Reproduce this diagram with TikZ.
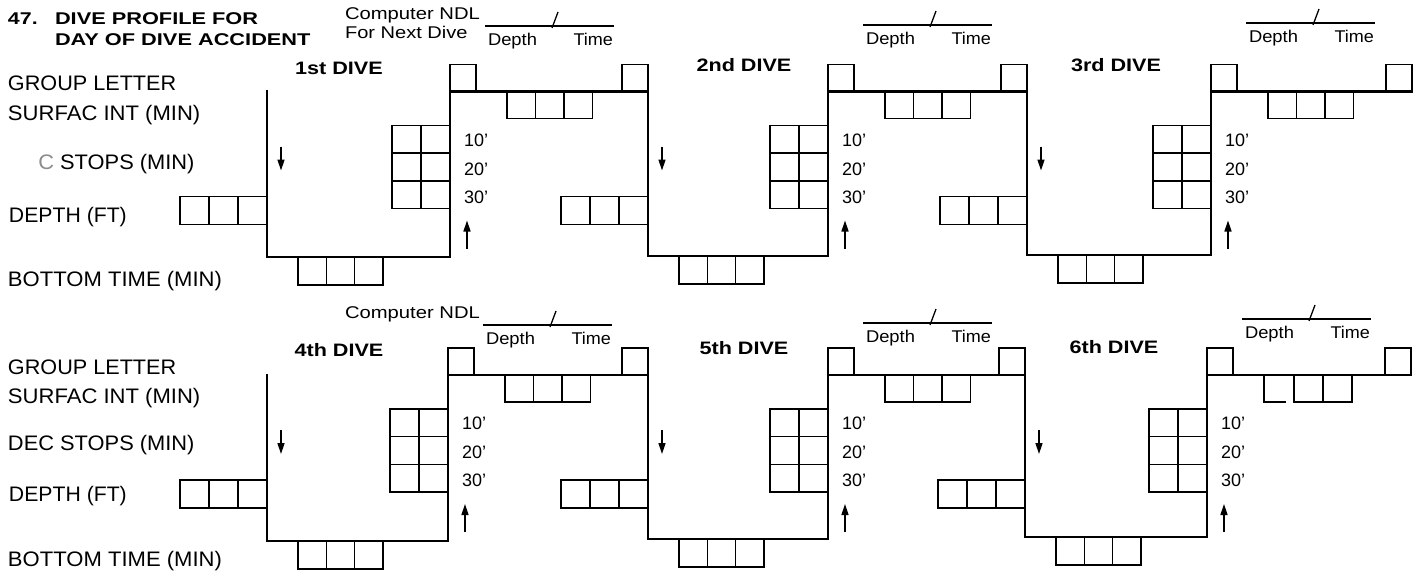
\documentclass[tikz,border=0pt]{standalone}
\usepackage{fontspec}
\setmainfont{Liberation Sans}
\usepackage{graphicx}
\usetikzlibrary{arrows.meta}

% horizontal stretch of a piece of text
\newcommand\hs[2]{\scalebox{#1}[1]{#2}}

\tikzset{
  profile/.style={line width=2.8pt, line join=miter, line cap=rect},
  cell/.style={line width=1.5pt},
  rule/.style={line width=1.5pt},
  dirarrow/.style={line width=1.5pt, -{Triangle[length=11pt,width=7pt]}},
  txt/.style={inner sep=0pt, outer sep=0pt},
  rowlabel/.style={txt, anchor=base west, font=\fontsize{21}{21}\selectfont},
  titletext/.style={txt, anchor=base west, font=\fontsize{17}{17}\selectfont\bfseries},
  ndltext/.style={txt, anchor=base west, font=\fontsize{17}{17}\selectfont},
  smalltext/.style={txt, font=\fontsize{17}{17}\selectfont},
  divetext/.style={txt, anchor=base, font=\fontsize{18}{18}\selectfont\bfseries},
  feettext/.style={txt, anchor=base west, font=\fontsize{18}{18}\selectfont},
}

\begin{document}
\begin{tikzpicture}[x=1pt,y=-1pt]
\useasboundingbox (0,0) rectangle (1424,576);
\fill[white] (0,0) rectangle (1424,576);

% heading
\node[titletext] (num) at (8,24) {\hs{1.26}{47.}};
\node[titletext] (head1) at (55,24) {\hs{1.28}{DIVE PROFILE FOR}};
\node[titletext] (head2) at (55,45) {\hs{1.28}{DAY OF DIVE ACCIDENT}};

% computer no-decompression-limit captions
\node[ndltext] (ndlA) at (345,19) {\hs{1.19}{Computer NDL}};
\node[ndltext] (ndlB) at (345,38) {\hs{1.18}{For Next Dive}};
\node[ndltext] (ndlC) at (345,318) {\hs{1.19}{Computer NDL}};

% row captions, upper block
\node[rowlabel] (gl1) at (8,90.5) {\hs{1.03}{GROUP LETTER}};
\node[rowlabel] (si1) at (8,120.5) {\hs{1.05}{SURFAC INT (MIN)}};
\node[rowlabel] (ds1) at (8,169.5) {\hs{1.04}{\phantom{DE}\textcolor{black!45}{C} STOPS (MIN)}};
\node[rowlabel] (dp1) at (9,222.5) {\hs{1.01}{DEPTH (FT)}};
\node[rowlabel] (bt1) at (8,286.5) {\hs{1.05}{BOTTOM TIME (MIN)}};

% row captions, lower block
\node[rowlabel] (gl2) at (8,374.5) {\hs{1.03}{GROUP LETTER}};
\node[rowlabel] (si2) at (8,403.5) {\hs{1.05}{SURFAC INT (MIN)}};
\node[rowlabel] (ds2) at (8,450.5) {\hs{1.04}{DEC STOPS (MIN)}};
\node[rowlabel] (dp2) at (9,501.5) {\hs{1.01}{DEPTH (FT)}};
\node[rowlabel] (bt2) at (8,566.5) {\hs{1.05}{BOTTOM TIME (MIN)}};

% one dive: descent x, ascent x, surface y, bottom y, NDL rule y,
% dive name, name position, right group box edge, broken cell flag
\foreach \n/\d/\a/\T/\B/\ny/\lbl/\lx/\ly/\g/\brk in {
  1/267/450/91.5/257/26/1st/339/74/648/0,
  2/648/828/91.5/256/25/2nd/744/71/1027/0,
  3/1027/1211/91.5/255/23/3rd/1116/71/1412/0,
  4/267/448/375/541/325/4th/339/356/648/0,
  5/648/828/375/539/323/5th/744/354/1025/0,
  6/1025/1207/375/537/319/6th/1114/353/1411/1}
{
  % corners of the profile
  \coordinate (s\n) at (\d,\T);
  \coordinate (b\n) at (\d,\B);
  \coordinate (c\n) at (\a,\B);
  \coordinate (u\n) at (\a,\T);
  \coordinate (e\n) at (\g,\T);

  % dive name
  \node[divetext] (name\n) at (\lx,\ly) {\hs{1.2}{\lbl{} DIVE}};

  % group letter boxes on the surface line
  \draw[cell] (\a,\T) rectangle (\a+26,\T-27);
  \draw[cell] (\g-26,\T) rectangle (\g,\T-27);

  % surface interval cells
  \ifnum\brk=0
    \foreach \i in {0,1,2}
      \draw[cell] (\a+57+\i*28.5,\T) rectangle ++(28.5,27);
  \else
    \draw[cell] (\a+57,\T) -- (\a+57,\T+27) -- (\a+79,\T+27);
    \draw[cell] (\a+87,\T) -- (\a+87,\T+27) -- (\a+145,\T+27) -- (\a+145,\T);
    \draw[cell] (\a+116,\T) -- (\a+116,\T+27);
  \fi

  % depth cells left of the descent
  \foreach \i in {0,1,2}
    \draw[cell] (\d-87+\i*29,\T+105) rectangle ++(29,28);

  % bottom time cells under the bottom line
  \foreach \i in {0,1,2}
    \draw[cell] (\d+31+\i*28.3,\B) rectangle ++(28.3,28);

  % decompression stop grid beside the ascent
  \foreach \i in {0,1}
    \foreach \j in {0,1,2}
      \draw[cell] (\a-58+\i*29,\T+34+\j*27.7) rectangle ++(29,27.7);

  % stop depths
  \node[feettext] (f10\n) at (\a+14,\T+54.5) {10\textquoteright};
  \node[feettext] (f20\n) at (\a+14,\T+83.5) {20\textquoteright};
  \node[feettext] (f30\n) at (\a+14,\T+111.5) {30\textquoteright};

  % direction of travel
  \coordinate (dn0\n) at (\d+14,\T+55);
  \coordinate (dn1\n) at (\d+14,\T+79);
  \coordinate (up0\n) at (\a+17,\T+157);
  \coordinate (up1\n) at (\a+17,\T+129);
  \draw[dirarrow] (dn0\n) -- (dn1\n);
  \draw[dirarrow] (up0\n) -- (up1\n);

  % depth / time rule for the next dive
  \coordinate (r0\n) at (\a+35,\ny);
  \coordinate (r1\n) at (\a+164,\ny);
  \coordinate (k0\n) at (\a+102,\ny+2);
  \coordinate (k1\n) at (\a+108,\ny-14);
  \draw[rule] (r0\n) -- (r1\n);
  \draw[line width=1.3pt] (k0\n) -- (k1\n);
  \node[smalltext, anchor=base west] (dep\n) at (\a+38,\ny+19) {\hs{1.08}{Depth}};
  \node[smalltext, anchor=base east] (tim\n) at (\a+163,\ny+19) {\hs{1.06}{Time}};
}

% the two dive profiles
\draw[profile] (s1) -- (b1) -- (c1) -- (u1) -- (s2) -- (b2) -- (c2) -- (u2)
  -- (s3) -- (b3) -- (c3) -- (u3) -- (e3);
\draw[profile] (s4) -- (b4) -- (c4) -- (u4) -- (s5) -- (b5) -- (c5) -- (u5)
  -- (s6) -- (b6) -- (c6) -- (u6) -- (e6);
\end{tikzpicture}
\end{document}
